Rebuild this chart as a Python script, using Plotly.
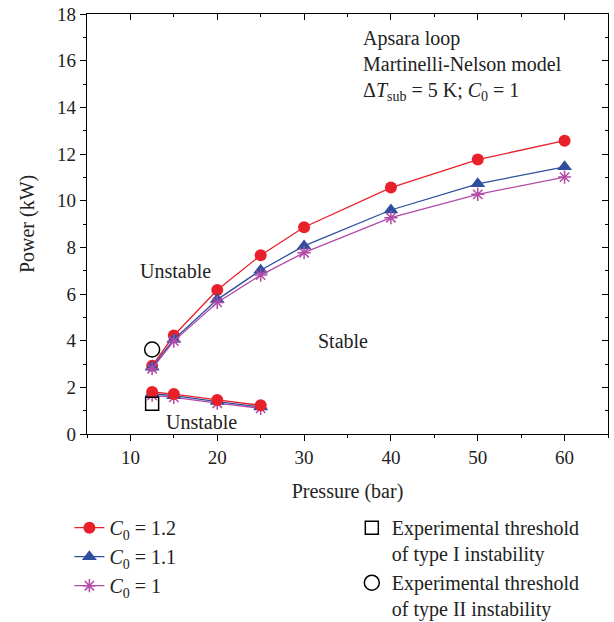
import plotly.graph_objects as go

# Pressure (bar) for the two stability-boundary branches
p_upper = [12.5, 15, 20, 25, 30, 40, 50, 60]
p_lower = [12.5, 15, 20, 25]

# Upper (type II) boundary, power in kW
c12_upper = [2.92, 4.22, 6.17, 7.66, 8.86, 10.56, 11.76, 12.57]
c11_upper = [2.86, 4.05, 5.76, 7.02, 8.06, 9.60, 10.72, 11.45]
c10_upper = [2.80, 3.98, 5.64, 6.81, 7.77, 9.27, 10.27, 11.01]

# Lower (type I) boundary, power in kW
c12_lower = [1.80, 1.71, 1.46, 1.23]
c11_lower = [1.73, 1.64, 1.39, 1.16]
c10_lower = [1.66, 1.57, 1.32, 1.10]

# Experimental thresholds
exp1_p, exp1_q = [12.5], [1.30]
exp2_p, exp2_q = [12.5], [3.62]

series_names = ["<i>C</i><sub>0</sub> = 1.2", "<i>C</i><sub>0</sub> = 1.1", "<i>C</i><sub>0</sub> = 1"]
exp_names = ["Experimental threshold<br>of type I instability",
             "Experimental threshold<br>of type II instability"]

FONT = "Liberation Serif"
TXT = "#222"
RED = "#e8202a"
BLUE = "#2d4f9e"
MAG = "#b24aa8"

fig = go.Figure()

styles = [
    (RED, dict(symbol="circle", size=12, color=RED)),
    (BLUE, dict(symbol="triangle-up", size=13, color=BLUE)),
    (MAG, dict(symbol="asterisk-open", size=11, color=MAG, line=dict(color=MAG, width=1.5))),
]
uppers = [c12_upper, c11_upper, c10_upper]
lowers = [c12_lower, c11_lower, c10_lower]

# draw C0=1 first so red sits on top
for i in [2, 1, 0]:
    col, mk = styles[i]
    fig.add_trace(go.Scatter(x=p_lower, y=lowers[i], mode="lines+markers",
                             line=dict(color=col, width=1.3), marker=mk,
                             legendgroup=str(i), showlegend=False))
for i in [0, 1, 2]:
    col, mk = styles[i]
    fig.add_trace(go.Scatter(x=p_upper, y=uppers[i], mode="lines+markers",
                             line=dict(color=col, width=1.3), marker=mk,
                             name=series_names[i], legendgroup=str(i),
                             legend="legend", legendrank=i))

fig.add_trace(go.Scatter(x=exp1_p, y=exp1_q, mode="markers",
                         marker=dict(symbol="square-open", size=13, color="black",
                                     line=dict(width=1.5)),
                         name=exp_names[0], legend="legend2", legendrank=1))
fig.add_trace(go.Scatter(x=exp2_p, y=exp2_q, mode="markers",
                         marker=dict(symbol="circle-open", size=15, color="black",
                                     line=dict(width=1.5)),
                         name=exp_names[1], legend="legend2", legendrank=2))

# carrier for the mirrored top/right axes
fig.add_trace(go.Scatter(x=[None], y=[None], xaxis="x2", yaxis="y2",
                         showlegend=False, hoverinfo="skip"))

tickfont = dict(family=FONT, size=19, color=TXT)
axis_common = dict(showgrid=False, zeroline=False, showline=True,
                   linecolor="black", linewidth=1.3, tickcolor="black",
                   tickwidth=1.2, ticklen=6, tickfont=tickfont)

fig.update_layout(
    width=614, height=622,
    margin=dict(l=87, r=6, t=14, b=188, autoexpand=False),
    paper_bgcolor="white", plot_bgcolor="white",
    font=dict(family=FONT, size=20, color=TXT),
    xaxis=dict(range=[5, 65], dtick=10, ticks="outside",
               minor=dict(dtick=5, ticks="outside", ticklen=3, tickcolor="black"),
               title=dict(text="Pressure (bar)", font=dict(family=FONT, size=20), standoff=17),
               **axis_common),
    yaxis=dict(range=[0, 18], dtick=2, ticks="outside",
               minor=dict(dtick=1, ticks="outside", ticklen=3, tickcolor="black"),
               **axis_common),
    xaxis2=dict(range=[5, 65], dtick=10, ticks="inside", overlaying="x", side="top",
                anchor="y2", showticklabels=False,
                minor=dict(dtick=5, ticks="inside", ticklen=3, tickcolor="black"),
                **axis_common),
    yaxis2=dict(range=[0, 18], dtick=2, ticks="inside", overlaying="y", side="right",
                anchor="x2", showticklabels=False,
                minor=dict(dtick=1, ticks="inside", ticklen=3, tickcolor="black"),
                **axis_common),
    legend=dict(xref="container", yref="container", x=0.113, y=0.183,
                xanchor="left", yanchor="top",
                font=dict(family=FONT, size=20, color=TXT),
                bgcolor="rgba(0,0,0,0)", tracegroupgap=0, itemwidth=30),
    legend2=dict(xref="container", yref="container", x=0.573, y=0.183,
                 xanchor="left", yanchor="top", valign="top",
                 font=dict(family=FONT, size=20, color=TXT),
                 bgcolor="rgba(0,0,0,0)", itemwidth=30),
)

ann_font = dict(family=FONT, size=20, color=TXT)
# y-axis title
fig.add_annotation(x=-0.115, y=0.5, xref="paper", yref="paper", textangle=-90,
                   xanchor="center", yanchor="middle",
                   text="Power (kW)", showarrow=False, font=ann_font)
fig.add_annotation(x=0.525, y=0.975, xref="paper", yref="paper", xanchor="left", yanchor="top",
                   align="left", showarrow=False, font=ann_font,
                   text="Apsara loop<br>Martinelli-Nelson model<br>"
                        "Δ<i>T</i><sub>sub</sub> = 5 K; <i>C</i><sub>0</sub> = 1")
fig.add_annotation(x=15.2, y=7.0, text="Unstable", showarrow=False, font=ann_font)
fig.add_annotation(x=34.5, y=3.99, text="Stable", showarrow=False, font=ann_font)
fig.add_annotation(x=18.2, y=0.51, text="Unstable", showarrow=False, font=ann_font)

fig.write_html("out.html")
